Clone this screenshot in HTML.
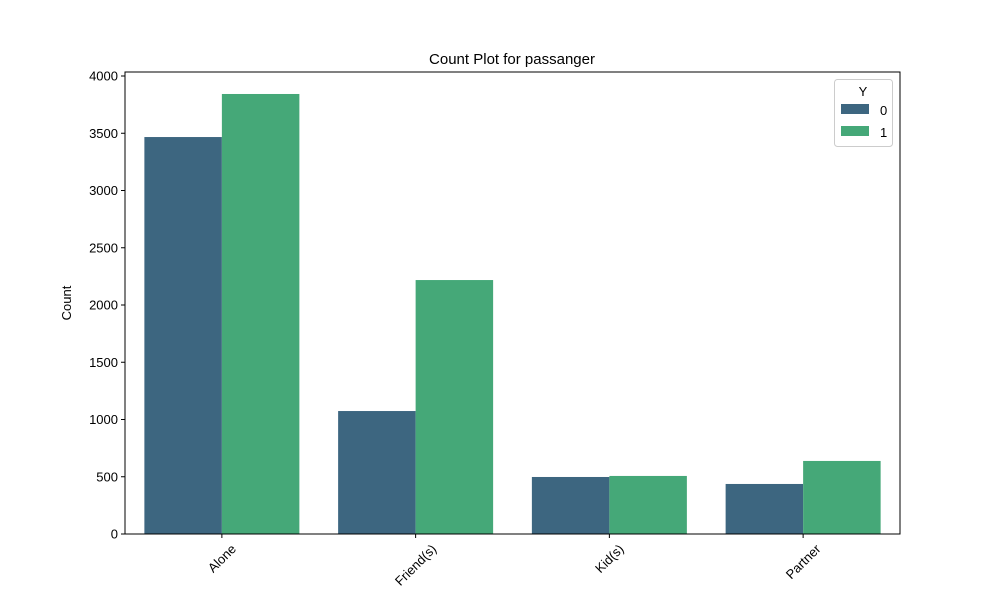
<!DOCTYPE html>
<html><head><meta charset="utf-8"><style>
body{margin:0;background:#fff;}
svg text{font-family:"Liberation Sans","DejaVu Sans",sans-serif;fill:#000;}
</style></head><body>
<svg id="chart" width="1000" height="600">
<text x="512" y="64" font-size="15" text-anchor="middle">Count Plot for passanger</text>
<text x="71" y="303" font-size="13" text-anchor="middle" transform="rotate(-90 71 303)">Count</text>
<g id="bars"></g><g id="axes"></g>
<g>
<rect x="834.5" y="79.5" width="58" height="67" rx="3" fill="#fff" stroke="#ccc"/>
<text x="863" y="96" font-size="13" text-anchor="middle">Y</text>
<rect x="841" y="104" width="28" height="10" fill="#3d6680"/>
<text x="880" y="115" font-size="13">0</text>
<rect x="841" y="126" width="28" height="10" fill="#45a878"/>
<text x="880" y="137" font-size="13">1</text>
</g>
</svg>
<script>
const categories=["Alone","Friend(s)","Kid(s)","Partner"];
const series0=[3467,1074,498,437];
const series1=[3843,2218,507,638];
const yTicks=[0,500,1000,1500,2000,2500,3000,3500,4000];
const colors=["#3d6680","#45a878"];
const L=125,R=900,T=72,B=534,yMax=4035;
const NS="http://www.w3.org/2000/svg";
function y(v){return B-(v/yMax)*(B-T);}
const bw=(R-L)/categories.length;
function xc(i){return L+bw*(i+0.5);}
const bars=document.getElementById('bars'),axes=document.getElementById('axes');
function mk(tag,attrs,parent){const e=document.createElementNS(NS,tag);for(const k in attrs)e.setAttribute(k,attrs[k]);parent.appendChild(e);return e;}
[series0,series1].forEach((s,si)=>{s.forEach((v,i)=>{
 const r=mk('rect',{x:xc(i)+(si===0?-0.4*bw:0),y:y(v),width:0.4*bw,height:B-y(v),fill:colors[si]},bars);
 
 
});});
const frame=mk('rect',{x:L,y:T,width:R-L,height:B-T,fill:'none',stroke:'#000','stroke-width':1},axes);


yTicks.forEach(t=>{
 mk('line',{x1:L-4,x2:L,y1:y(t),y2:y(t),stroke:'#000'},axes);
 const tx=mk('text',{x:L-7,y:y(t)+4.5,'font-size':13,'text-anchor':'end'},axes);
 tx.textContent=t;
 
 
});
categories.forEach((c,i)=>{
 const x=xc(i);
 mk('line',{x1:x,x2:x,y1:B,y2:B+4,stroke:'#000'},axes);
 const tx=mk('text',{x:0,y:0,'font-size':13,'text-anchor':'middle','dominant-baseline':'central'},axes);
 tx.textContent=c;
 const w=tx.getComputedTextLength(), h=13;
 const bh=(w+h)/Math.SQRT2;
 const cy=B+8+bh/2;
 tx.setAttribute('transform',`translate(${x} ${cy}) rotate(-45)`);
 
 
});
</script>
</body></html>
